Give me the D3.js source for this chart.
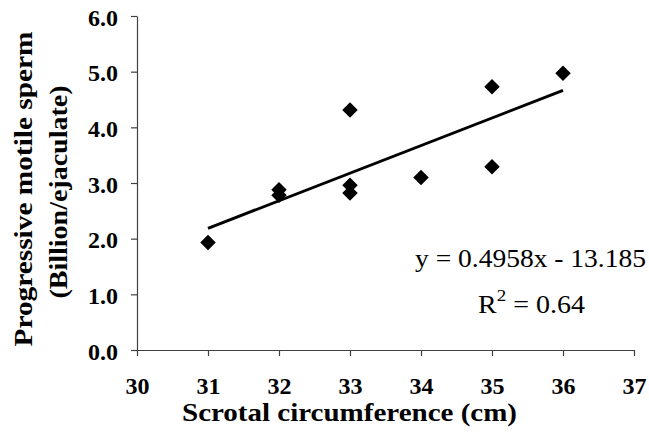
<!DOCTYPE html>
<html>
<head>
<meta charset="utf-8">
<script src="https://cdn.jsdelivr.net/npm/d3@7"></script>
<style>
  body { margin: 0; background: #fff; }
  svg { display: block; }
</style>
</head>
<body>
<svg id="chart"></svg>
<script>
// scrotal circumference (cm) vs progressive motile sperm (billion/ejaculate)
const circumference = [31, 32, 32, 33, 33, 33, 34, 35, 35, 36];
const motileSperm = [1.93, 2.88, 2.78, 4.31, 2.96, 2.82, 3.10, 4.73, 3.29, 4.97];
const xTicks = [30, 31, 32, 33, 34, 35, 36, 37];
const yTicks = [0, 1, 2, 3, 4, 5, 6];
const slope = 0.4958;
const intercept = -13.185;
const trendRange = [31, 36];

const W = 649, H = 432;
const margin = { top: 16, right: 15, bottom: 82, left: 137 };

const svg = d3.select('#chart')
    .attr('width', W)
    .attr('height', H);

const xScale = d3.scaleLinear()
    .domain([30, 37])
    .range([margin.left, W - margin.right]);

const yScale = d3.scaleLinear()
    .domain([0, 6])
    .range([H - margin.bottom, margin.top]);

// axes
const xAxis = svg.append('g')
    .attr('transform', `translate(0,${H - margin.bottom})`)
    .call(d3.axisBottom(xScale).tickValues(xTicks).tickSize(6).tickSizeOuter(0).tickFormat(d3.format('d')));

const yAxis = svg.append('g')
    .attr('transform', `translate(${margin.left},0)`)
    .call(d3.axisLeft(yScale).tickValues(yTicks).tickSize(6).tickSizeOuter(0).tickFormat(d3.format('.1f')));

[xAxis, yAxis].forEach(g => {
    g.select('.domain').attr('stroke', '#404040').attr('stroke-width', 1.2);
    g.selectAll('.tick line').attr('stroke', '#404040').attr('stroke-width', 1.2);
    g.selectAll('.tick text')
        .attr('fill', '#000')
        .style('font-family', '"Liberation Serif", "Times New Roman", serif')
        .style('font-weight', 'bold')
        .style('font-size', '24px');
});

xAxis.selectAll('.tick text').attr('y', 44).attr('dy', 0);
yAxis.selectAll('.tick text').attr('x', -19).attr('dy', 9);

// axis titles
svg.append('text')
    .attr('x', 349.5)
    .attr('y', 421)
    .attr('text-anchor', 'middle')
    .attr('textLength', 335)
    .attr('lengthAdjust', 'spacingAndGlyphs')
    .style('font-family', '"Liberation Serif", "Times New Roman", serif')
    .style('font-weight', 'bold')
    .style('font-size', '26px')
    .text('Scrotal circumference (cm)');

const yTitle = svg.append('text')
    .attr('transform', 'translate(0,189) rotate(-90)')
    .attr('text-anchor', 'middle')
    .style('font-family', '"Liberation Serif", "Times New Roman", serif')
    .style('font-weight', 'bold')
    .style('font-size', '26px');

yTitle.append('tspan')
    .attr('x', 0)
    .attr('y', 32)
    .attr('textLength', 315)
    .attr('lengthAdjust', 'spacingAndGlyphs')
    .text('Progressive motile sperm');

yTitle.append('tspan')
    .attr('x', -3)
    .attr('y', 67)
    .attr('textLength', 213)
    .attr('lengthAdjust', 'spacingAndGlyphs')
    .text('(Billion/ejaculate)');

// trend line
const trend = trendRange.map(x => [x, slope * x + intercept]);
svg.append('path')
    .datum(trend)
    .attr('fill', 'none')
    .attr('stroke', '#000')
    .attr('stroke-width', 3)
    .attr('d', d3.line().x(d => xScale(d[0])).y(d => yScale(d[1])));

// diamond markers
const diamond = d3.symbol().type(d3.symbolSquare).size(120);
svg.selectAll('.pt')
    .data(circumference.map((c, i) => ({ x: c, y: motileSperm[i] })))
    .enter()
    .append('path')
    .attr('class', 'pt')
    .attr('d', diamond)
    .attr('fill', '#000')
    .attr('transform', d => `translate(${xScale(d.x)},${yScale(d.y)}) rotate(45)`);

// regression annotation
const eq = svg.append('g')
    .style('font-family', '"Liberation Serif", "Times New Roman", serif')
    .style('font-size', '25px')
    .attr('fill', '#000');

eq.append('text')
    .attr('x', 415)
    .attr('y', 267)
    .attr('textLength', 231)
    .attr('lengthAdjust', 'spacingAndGlyphs')
    .text(`y = ${slope}x - ${Math.abs(intercept)}`);

const r2 = eq.append('text')
    .attr('transform', 'translate(478,313) scale(1.12,1)');
r2.append('tspan').text('R');
r2.append('tspan').attr('dy', -12).style('font-size', '17px').text('2');
r2.append('tspan').attr('dy', 12).text(' = 0.64');
</script>
</body>
</html>
